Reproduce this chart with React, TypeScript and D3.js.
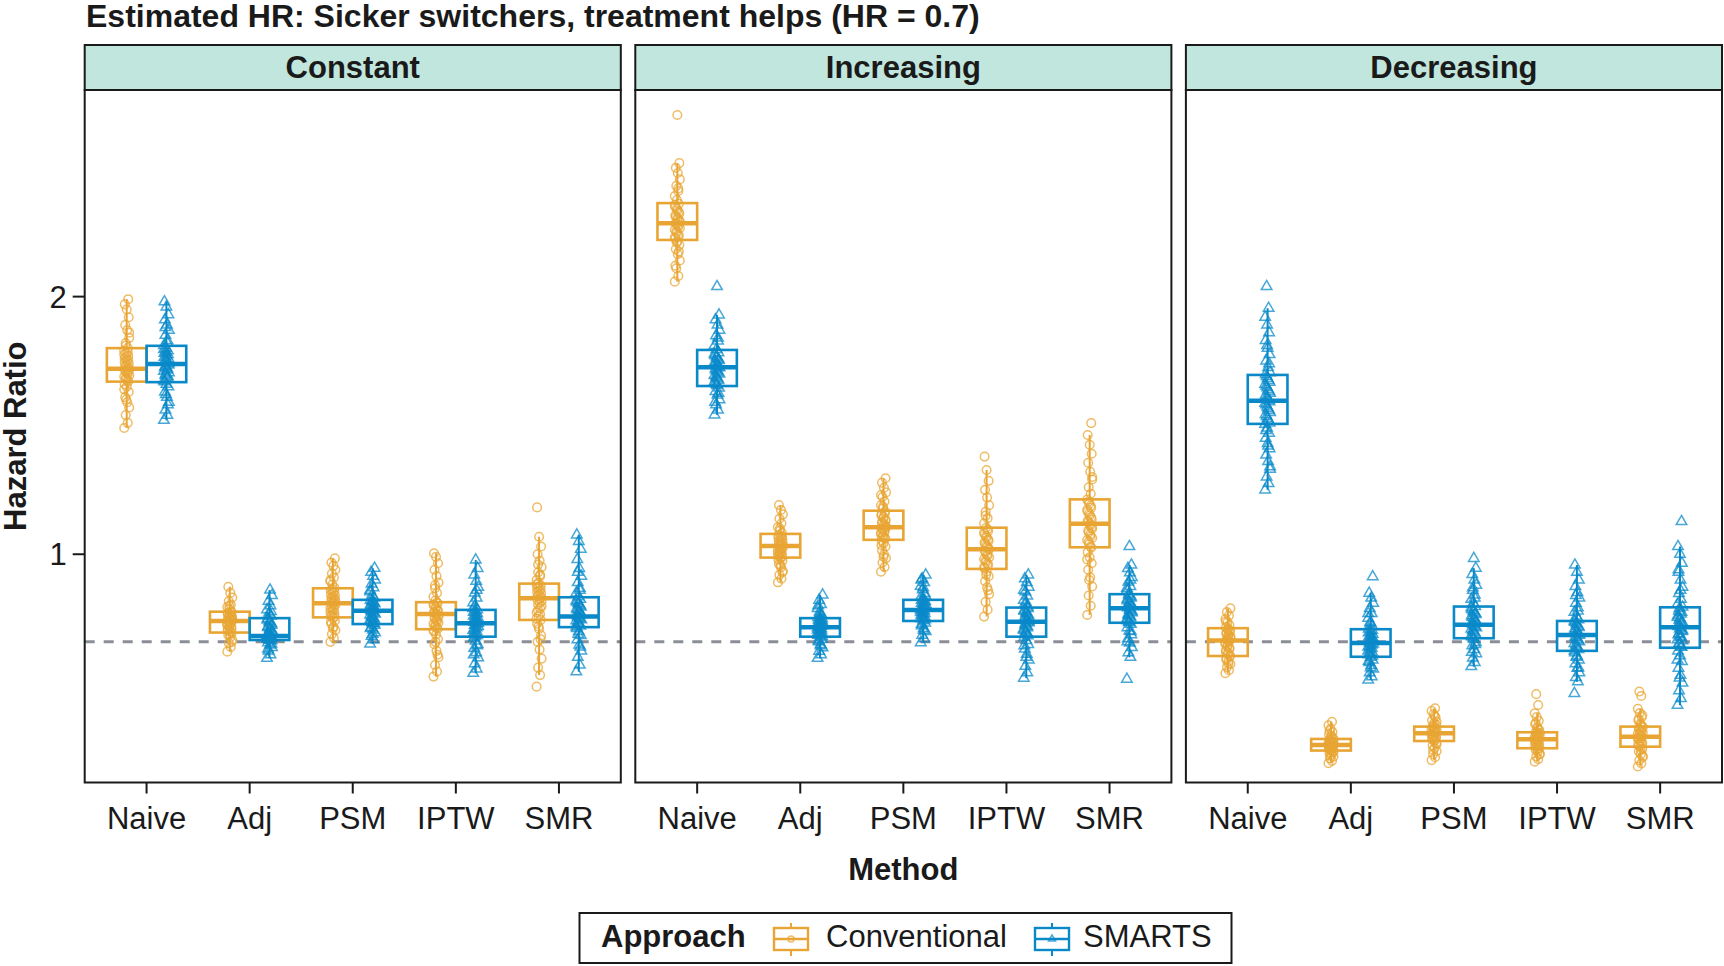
import React from 'react';
import * as d3 from 'd3';

const facets = ['Constant', 'Increasing', 'Decreasing'];
const methods = ['Naive', 'Adj', 'PSM', 'IPTW', 'SMR'];
const approaches = ['Conventional', 'SMARTS'];
const yTicks = [1, 2];
const yLimits = [0.114, 2.802];
const referenceHR = 0.66;

// [lower whisker, Q1, median, Q3, upper whisker] per method
const constantConvBox = [
  [1.49, 1.67, 1.72, 1.8, 1.99],
  [0.622, 0.696, 0.741, 0.777, 0.874],
  [0.66, 0.755, 0.81, 0.868, 0.984],
  [0.525, 0.709, 0.768, 0.814, 1.004],
  [0.531, 0.745, 0.829, 0.886, 1.068],
];
const constantSmartsBox = [
  [1.52, 1.668, 1.738, 1.809, 1.98],
  [0.596, 0.667, 0.683, 0.752, 0.861],
  [0.652, 0.729, 0.781, 0.823, 0.946],
  [0.538, 0.68, 0.732, 0.784, 0.978],
  [0.544, 0.717, 0.758, 0.833, 1.075],
];
const increasingConvBox = [
  [2.058, 2.22, 2.285, 2.363, 2.518],
  [0.891, 0.987, 1.032, 1.079, 1.191],
  [0.932, 1.056, 1.105, 1.169, 1.295],
  [0.758, 0.943, 1.019, 1.103, 1.327],
  [0.764, 1.027, 1.118, 1.213, 1.463],
];
const increasingSmartsBox = [
  [1.541, 1.653, 1.726, 1.793, 1.929],
  [0.596, 0.68, 0.717, 0.752, 0.842],
  [0.657, 0.741, 0.784, 0.823, 0.92],
  [0.519, 0.68, 0.738, 0.793, 0.92],
  [0.6, 0.734, 0.79, 0.845, 0.958],
];
const decreasingConvBox = [
  [0.538, 0.605, 0.665, 0.713, 0.79],
  [0.189, 0.238, 0.26, 0.283, 0.35],
  [0.201, 0.275, 0.305, 0.331, 0.402],
  [0.195, 0.247, 0.282, 0.309, 0.383],
  [0.176, 0.253, 0.292, 0.331, 0.4],
];
const decreasingSmartsBox = [
  [1.25, 1.506, 1.596, 1.696, 1.955],
  [0.512, 0.602, 0.655, 0.709, 0.849],
  [0.564, 0.674, 0.726, 0.797, 0.946],
  [0.505, 0.625, 0.687, 0.741, 0.958],
  [0.414, 0.637, 0.717, 0.794, 1.03],
];

// estimated HR of each simulated run, one list per method
const constantConvEst = [
  [1.49, 1.51, 1.54, 1.57, 1.59, 1.61, 1.63, 1.65, 1.66, 1.67, 1.68, 1.69, 1.7, 1.71, 1.715, 1.72, 1.73, 1.74, 1.75, 1.76, 1.77, 1.78, 1.79, 1.8, 1.82, 1.84, 1.87, 1.89, 1.92, 1.95, 1.97, 1.99,
    1.6, 1.64, 1.675, 1.685, 1.695, 1.705, 1.712, 1.725, 1.735, 1.745, 1.755, 1.765, 1.775, 1.785, 1.81, 1.86],
  [0.622, 0.64, 0.655, 0.668, 0.678, 0.687, 0.695, 0.7, 0.708, 0.715, 0.722, 0.728, 0.734, 0.74, 0.745, 0.75, 0.755, 0.76, 0.766, 0.772, 0.778, 0.786, 0.795, 0.805, 0.818, 0.832, 0.85, 0.874,
    0.66, 0.69, 0.705, 0.712, 0.718, 0.725, 0.731, 0.737, 0.743, 0.748, 0.753, 0.758, 0.763, 0.769, 0.775, 0.8],
  [0.66, 0.675, 0.69, 0.705, 0.718, 0.73, 0.742, 0.752, 0.76, 0.77, 0.78, 0.79, 0.8, 0.808, 0.815, 0.822, 0.83, 0.84, 0.85, 0.86, 0.87, 0.882, 0.895, 0.91, 0.925, 0.94, 0.955, 0.968, 0.984,
    0.712, 0.738, 0.757, 0.765, 0.775, 0.785, 0.795, 0.804, 0.812, 0.818, 0.826, 0.835, 0.845, 0.855, 0.865, 0.9],
  [0.525, 0.545, 0.57, 0.6, 0.625, 0.65, 0.67, 0.688, 0.7, 0.71, 0.72, 0.73, 0.74, 0.75, 0.758, 0.765, 0.772, 0.78, 0.79, 0.8, 0.81, 0.82, 0.835, 0.85, 0.868, 0.89, 0.915, 0.94, 0.965, 0.99, 1.004,
    0.61, 0.66, 0.705, 0.715, 0.725, 0.735, 0.745, 0.754, 0.762, 0.769, 0.776, 0.785, 0.795, 0.805, 0.812, 0.88],
  [0.486, 0.531, 0.56, 0.595, 0.63, 0.66, 0.685, 0.71, 0.73, 0.745, 0.76, 0.775, 0.79, 0.805, 0.818, 0.828, 0.838, 0.848, 0.858, 0.868, 0.878, 0.888, 0.9, 0.915, 0.93, 0.95, 0.975, 1.0, 1.03, 1.068, 1.182,
    0.67, 0.72, 0.75, 0.768, 0.782, 0.798, 0.812, 0.823, 0.833, 0.843, 0.853, 0.863, 0.873, 0.883, 0.92, 0.96],
];
const constantSmartsEst = [
  [1.52, 1.54, 1.56, 1.59, 1.61, 1.63, 1.65, 1.66, 1.67, 1.69, 1.7, 1.71, 1.72, 1.73, 1.74, 1.745, 1.75, 1.76, 1.77, 1.78, 1.79, 1.8, 1.81, 1.83, 1.85, 1.87, 1.89, 1.91, 1.93, 1.96, 1.98,
    1.58, 1.62, 1.675, 1.685, 1.695, 1.705, 1.715, 1.725, 1.735, 1.755, 1.765, 1.775, 1.785, 1.795, 1.82, 1.88],
  [0.596, 0.61, 0.625, 0.638, 0.648, 0.657, 0.664, 0.668, 0.672, 0.676, 0.68, 0.683, 0.688, 0.695, 0.703, 0.712, 0.72, 0.73, 0.74, 0.75, 0.76, 0.772, 0.785, 0.8, 0.818, 0.84, 0.861,
    0.632, 0.652, 0.666, 0.67, 0.674, 0.678, 0.681, 0.685, 0.691, 0.699, 0.708, 0.716, 0.725, 0.735, 0.745, 0.778],
  [0.652, 0.668, 0.682, 0.695, 0.706, 0.716, 0.725, 0.732, 0.74, 0.748, 0.756, 0.764, 0.772, 0.78, 0.786, 0.792, 0.8, 0.808, 0.815, 0.822, 0.83, 0.842, 0.855, 0.87, 0.885, 0.9, 0.915, 0.93, 0.946,
    0.69, 0.712, 0.73, 0.736, 0.744, 0.752, 0.76, 0.768, 0.776, 0.783, 0.789, 0.796, 0.804, 0.812, 0.819, 0.86],
  [0.538, 0.555, 0.575, 0.598, 0.618, 0.635, 0.65, 0.663, 0.675, 0.685, 0.695, 0.705, 0.715, 0.725, 0.732, 0.74, 0.748, 0.756, 0.765, 0.775, 0.785, 0.798, 0.812, 0.83, 0.85, 0.872, 0.895, 0.92, 0.945, 0.978,
    0.61, 0.645, 0.68, 0.69, 0.7, 0.71, 0.72, 0.728, 0.736, 0.744, 0.752, 0.76, 0.77, 0.78, 0.79, 0.86],
  [0.544, 0.57, 0.6, 0.625, 0.648, 0.668, 0.685, 0.7, 0.712, 0.722, 0.732, 0.742, 0.75, 0.758, 0.766, 0.775, 0.785, 0.795, 0.805, 0.815, 0.825, 0.835, 0.85, 0.868, 0.89, 0.915, 0.945, 0.98, 1.02, 1.05, 1.075,
    0.64, 0.69, 0.718, 0.727, 0.737, 0.746, 0.754, 0.762, 0.77, 0.78, 0.79, 0.8, 0.81, 0.82, 0.86, 0.93],
];
const increasingConvEst = [
  [2.058, 2.08, 2.11, 2.14, 2.165, 2.185, 2.2, 2.215, 2.225, 2.235, 2.248, 2.26, 2.272, 2.282, 2.29, 2.3, 2.31, 2.322, 2.335, 2.348, 2.36, 2.375, 2.39, 2.41, 2.43, 2.455, 2.48, 2.5, 2.518, 2.705,
    2.12, 2.175, 2.21, 2.23, 2.242, 2.254, 2.266, 2.277, 2.286, 2.295, 2.305, 2.316, 2.328, 2.342, 2.355, 2.42],
  [0.891, 0.905, 0.92, 0.935, 0.95, 0.962, 0.975, 0.985, 0.993, 1.0, 1.008, 1.015, 1.022, 1.03, 1.036, 1.042, 1.05, 1.058, 1.066, 1.074, 1.082, 1.092, 1.105, 1.12, 1.138, 1.155, 1.172, 1.191,
    0.93, 0.958, 0.98, 0.99, 0.997, 1.004, 1.012, 1.019, 1.026, 1.033, 1.039, 1.046, 1.054, 1.062, 1.07, 1.1],
  [0.932, 0.95, 0.968, 0.985, 1.0, 1.015, 1.03, 1.042, 1.054, 1.064, 1.074, 1.083, 1.092, 1.1, 1.108, 1.116, 1.125, 1.135, 1.145, 1.155, 1.166, 1.178, 1.19, 1.205, 1.222, 1.24, 1.258, 1.278, 1.295,
    0.99, 1.035, 1.06, 1.069, 1.078, 1.087, 1.096, 1.104, 1.112, 1.12, 1.13, 1.14, 1.15, 1.16, 1.185, 1.23],
  [0.758, 0.785, 0.815, 0.845, 0.872, 0.895, 0.915, 0.932, 0.945, 0.958, 0.97, 0.982, 0.995, 1.008, 1.018, 1.028, 1.04, 1.052, 1.065, 1.078, 1.09, 1.103, 1.12, 1.14, 1.165, 1.19, 1.22, 1.25, 1.285, 1.327, 1.379,
    0.86, 0.92, 0.95, 0.964, 0.976, 0.988, 1.0, 1.012, 1.023, 1.034, 1.046, 1.058, 1.071, 1.084, 1.097, 1.15],
  [0.764, 0.8, 0.84, 0.875, 0.91, 0.94, 0.965, 0.988, 1.008, 1.025, 1.04, 1.055, 1.07, 1.085, 1.1, 1.112, 1.124, 1.136, 1.15, 1.165, 1.18, 1.196, 1.212, 1.235, 1.26, 1.29, 1.32, 1.355, 1.39, 1.425, 1.463, 1.509,
    0.9, 0.98, 1.03, 1.048, 1.063, 1.078, 1.092, 1.106, 1.118, 1.13, 1.143, 1.158, 1.172, 1.188, 1.205, 1.3],
];
const increasingSmartsEst = [
  [1.541, 1.56, 1.58, 1.6, 1.618, 1.632, 1.645, 1.655, 1.665, 1.675, 1.685, 1.695, 1.705, 1.715, 1.724, 1.732, 1.742, 1.752, 1.762, 1.772, 1.782, 1.795, 1.81, 1.828, 1.848, 1.87, 1.89, 1.91, 1.929, 2.039,
    1.59, 1.625, 1.66, 1.67, 1.68, 1.69, 1.7, 1.71, 1.72, 1.728, 1.737, 1.747, 1.757, 1.767, 1.777, 1.84],
  [0.596, 0.61, 0.624, 0.637, 0.65, 0.66, 0.67, 0.678, 0.686, 0.693, 0.7, 0.706, 0.712, 0.718, 0.724, 0.73, 0.736, 0.742, 0.748, 0.755, 0.765, 0.776, 0.79, 0.805, 0.822, 0.842,
    0.645, 0.665, 0.682, 0.689, 0.696, 0.703, 0.709, 0.715, 0.721, 0.727, 0.733, 0.739, 0.745, 0.751, 0.77, 0.8],
  [0.657, 0.672, 0.686, 0.7, 0.712, 0.723, 0.733, 0.742, 0.75, 0.758, 0.766, 0.774, 0.781, 0.788, 0.795, 0.802, 0.81, 0.818, 0.826, 0.836, 0.848, 0.862, 0.876, 0.89, 0.905, 0.92,
    0.705, 0.728, 0.746, 0.754, 0.762, 0.77, 0.777, 0.784, 0.791, 0.798, 0.806, 0.814, 0.822, 0.84, 0.87, 0.9],
  [0.519, 0.54, 0.565, 0.59, 0.612, 0.632, 0.65, 0.665, 0.678, 0.69, 0.7, 0.71, 0.72, 0.73, 0.738, 0.746, 0.755, 0.764, 0.774, 0.784, 0.795, 0.808, 0.822, 0.838, 0.855, 0.872, 0.89, 0.905, 0.92,
    0.6, 0.645, 0.684, 0.695, 0.705, 0.715, 0.725, 0.734, 0.742, 0.75, 0.759, 0.769, 0.779, 0.79, 0.815, 0.86],
  [0.515, 0.6, 0.618, 0.638, 0.656, 0.672, 0.688, 0.702, 0.715, 0.728, 0.738, 0.748, 0.758, 0.768, 0.778, 0.788, 0.796, 0.805, 0.815, 0.825, 0.835, 0.846, 0.86, 0.875, 0.892, 0.91, 0.928, 0.945, 0.958, 1.03,
    0.66, 0.7, 0.735, 0.743, 0.753, 0.763, 0.773, 0.783, 0.792, 0.8, 0.81, 0.82, 0.83, 0.84, 0.868, 0.9],
];
const decreasingConvEst = [
  [0.538, 0.55, 0.562, 0.574, 0.585, 0.595, 0.604, 0.612, 0.622, 0.632, 0.642, 0.652, 0.66, 0.668, 0.676, 0.684, 0.692, 0.7, 0.708, 0.716, 0.725, 0.736, 0.748, 0.762, 0.776, 0.79,
    0.575, 0.59, 0.608, 0.617, 0.627, 0.637, 0.647, 0.656, 0.664, 0.672, 0.68, 0.688, 0.696, 0.704, 0.712, 0.74],
  [0.189, 0.198, 0.207, 0.215, 0.222, 0.229, 0.235, 0.24, 0.245, 0.25, 0.254, 0.258, 0.262, 0.266, 0.27, 0.275, 0.28, 0.285, 0.292, 0.3, 0.31, 0.322, 0.336, 0.35,
    0.218, 0.232, 0.238, 0.242, 0.247, 0.252, 0.256, 0.26, 0.264, 0.268, 0.272, 0.277, 0.282, 0.295, 0.315],
  [0.201, 0.212, 0.224, 0.236, 0.248, 0.258, 0.267, 0.275, 0.282, 0.288, 0.294, 0.3, 0.306, 0.312, 0.318, 0.324, 0.33, 0.337, 0.345, 0.355, 0.367, 0.38, 0.392, 0.402,
    0.24, 0.262, 0.278, 0.285, 0.291, 0.297, 0.303, 0.309, 0.315, 0.321, 0.327, 0.334, 0.35, 0.372],
  [0.195, 0.205, 0.215, 0.224, 0.232, 0.24, 0.247, 0.254, 0.261, 0.268, 0.275, 0.281, 0.287, 0.293, 0.299, 0.305, 0.31, 0.318, 0.328, 0.34, 0.353, 0.368, 0.383, 0.415, 0.457,
    0.225, 0.243, 0.25, 0.257, 0.264, 0.271, 0.278, 0.284, 0.29, 0.296, 0.302, 0.307, 0.322, 0.345],
  [0.176, 0.188, 0.2, 0.212, 0.224, 0.235, 0.245, 0.254, 0.262, 0.27, 0.278, 0.286, 0.293, 0.3, 0.308, 0.316, 0.324, 0.332, 0.342, 0.355, 0.368, 0.384, 0.4, 0.45, 0.467,
    0.218, 0.24, 0.258, 0.266, 0.274, 0.282, 0.29, 0.297, 0.304, 0.312, 0.32, 0.328, 0.337, 0.36, 0.375],
];
const decreasingSmartsEst = [
  [1.25, 1.275, 1.3, 1.33, 1.36, 1.385, 1.41, 1.43, 1.45, 1.47, 1.49, 1.505, 1.52, 1.535, 1.55, 1.565, 1.58, 1.592, 1.605, 1.618, 1.632, 1.646, 1.66, 1.675, 1.69, 1.705, 1.725, 1.75, 1.775, 1.8, 1.83, 1.86, 1.89, 1.92, 1.955, 2.039,
    1.34, 1.42, 1.48, 1.51, 1.527, 1.543, 1.558, 1.572, 1.586, 1.598, 1.611, 1.625, 1.639, 1.653, 1.668, 1.682, 1.698, 1.74, 1.81],
  [0.512, 0.525, 0.54, 0.555, 0.568, 0.58, 0.59, 0.6, 0.61, 0.62, 0.63, 0.64, 0.648, 0.656, 0.664, 0.672, 0.68, 0.69, 0.7, 0.71, 0.722, 0.736, 0.752, 0.77, 0.79, 0.81, 0.83, 0.849, 0.913,
    0.56, 0.585, 0.605, 0.615, 0.625, 0.635, 0.644, 0.652, 0.66, 0.668, 0.676, 0.685, 0.695, 0.705, 0.73, 0.77],
  [0.564, 0.58, 0.597, 0.614, 0.63, 0.645, 0.658, 0.67, 0.68, 0.69, 0.7, 0.71, 0.72, 0.728, 0.737, 0.746, 0.756, 0.766, 0.776, 0.786, 0.797, 0.81, 0.825, 0.842, 0.86, 0.88, 0.9, 0.922, 0.946, 0.984,
    0.62, 0.65, 0.675, 0.685, 0.695, 0.705, 0.715, 0.724, 0.732, 0.741, 0.751, 0.761, 0.771, 0.781, 0.792, 0.83, 0.87],
  [0.46, 0.505, 0.522, 0.54, 0.558, 0.575, 0.59, 0.605, 0.618, 0.63, 0.642, 0.654, 0.665, 0.676, 0.686, 0.696, 0.706, 0.716, 0.726, 0.736, 0.746, 0.76, 0.775, 0.792, 0.81, 0.83, 0.852, 0.875, 0.9, 0.93, 0.958,
    0.56, 0.6, 0.625, 0.636, 0.648, 0.66, 0.67, 0.68, 0.691, 0.701, 0.711, 0.721, 0.731, 0.741, 0.78, 0.84],
  [0.414, 0.44, 0.47, 0.5, 0.53, 0.558, 0.584, 0.606, 0.625, 0.64, 0.655, 0.668, 0.68, 0.692, 0.704, 0.715, 0.726, 0.738, 0.75, 0.762, 0.775, 0.79, 0.806, 0.825, 0.848, 0.872, 0.9, 0.93, 0.965, 1.0, 1.03, 1.127,
    0.52, 0.59, 0.64, 0.652, 0.664, 0.676, 0.688, 0.7, 0.71, 0.72, 0.732, 0.744, 0.756, 0.768, 0.78, 0.795, 0.86, 0.94],
];

const boxStats: Record<string, number[][][]> = {
  Constant: [constantConvBox, constantSmartsBox],
  Increasing: [increasingConvBox, increasingSmartsBox],
  Decreasing: [decreasingConvBox, decreasingSmartsBox],
};
const estimates: Record<string, number[][][]> = {
  Constant: [constantConvEst, constantSmartsEst],
  Increasing: [increasingConvEst, increasingSmartsEst],
  Decreasing: [decreasingConvEst, decreasingSmartsEst],
};

const width = 1724;
const height = 966;
const margin = { top: 90, right: 2, bottom: 183.5, left: 84.7 };
const stripTop = 45;
const panelGap = 14.5;
const colors = ['#E8A534', '#0A89C9'];
const font = '"Liberation Sans", Arial, Helvetica, sans-serif';
const ink = '#1a1a1a';

const triangle = d3.symbol().type(d3.symbolTriangle).size(48)();
const legendTriangle = d3.symbol().type(d3.symbolTriangle).size(22)();

// spread points sideways a little, same pattern for every group
const jitter = (i: number) => (((i * 7) % 11) - 5) * 0.5;

const Mark = ({ k, x, y, r = 4.3, d = triangle }: { k: number; x: number; y: number; r?: number; d?: string | null }) =>
  k === 0 ? (
    <circle cx={x} cy={y} r={r} fill="none" stroke={colors[0]} strokeOpacity={0.75} strokeWidth={1.5} />
  ) : (
    <path d={d || ''} transform={`translate(${x},${y})`} fill="none" stroke={colors[1]} strokeOpacity={0.75} strokeWidth={1.5} />
  );

export default function App() {
  const panelW = (width - margin.left - margin.right - 2 * panelGap) / 3;
  const bottom = height - margin.bottom;

  const y = d3.scaleLinear().domain(yLimits).range([bottom, margin.top]);
  const x = d3.scalePoint().domain(methods).range([0, panelW]).padding(0.6);
  const step = x.step();
  const dodge = d3.scaleBand().domain(approaches).range([-0.385 * step, 0.385 * step]);
  const bw = dodge.bandwidth();

  const legendY = 913;
  const legendH = 50;

  return (
    <svg width={width} height={height} style={{ position: 'absolute', left: 0, top: 0, background: '#fff' }} fontFamily={font}>
      <text x={86} y={27} fontSize={32} fontWeight="bold" fill={ink}>
        Estimated HR: Sicker switchers, treatment helps (HR = 0.7)
      </text>

      {facets.map((facet, fi) => {
        const left = margin.left + fi * (panelW + panelGap);
        return (
          <g key={facet} transform={`translate(${left},0)`}>
            <rect x={0} y={stripTop} width={panelW} height={margin.top - stripTop} fill="#C0E6DD" stroke={ink} strokeWidth={2} />
            <text x={panelW / 2} y={78} textAnchor="middle" fontSize={31} fontWeight="bold" fill={ink}>
              {facet}
            </text>

            <line x1={0} x2={panelW} y1={y(referenceHR)} y2={y(referenceHR)} stroke="#8B8E97" strokeWidth={3} strokeDasharray="10 9" />

            {approaches.map((a, k) =>
              boxStats[facet][k].map(([lo, q1, med, q3, hi], mi) => {
                const cx = (x(methods[mi]) as number) + (dodge(a) as number) + bw / 2;
                return (
                  <g key={`${a}-${mi}`} stroke={colors[k]} fill="none">
                    <line x1={cx} x2={cx} y1={y(q3)} y2={y(hi)} strokeWidth={2} />
                    <line x1={cx} x2={cx} y1={y(q1)} y2={y(lo)} strokeWidth={2} />
                    <rect x={cx - bw / 2} y={y(q3)} width={bw} height={y(q1) - y(q3)} strokeWidth={2.6} />
                    <line x1={cx - bw / 2} x2={cx + bw / 2} y1={y(med)} y2={y(med)} strokeWidth={4.5} />
                  </g>
                );
              })
            )}

            {approaches.map((a, k) =>
              estimates[facet][k].map((vals, mi) => {
                const cx = (x(methods[mi]) as number) + (dodge(a) as number) + bw / 2;
                return (
                  <g key={`p-${a}-${mi}`}>
                    {vals.map((v, i) => (
                      <Mark key={i} k={k} x={cx + jitter(i)} y={y(v)} />
                    ))}
                  </g>
                );
              })
            )}

            <rect x={0} y={margin.top} width={panelW} height={bottom - margin.top} fill="none" stroke={ink} strokeWidth={2} />

            {methods.map((m) => (
              <g key={m} transform={`translate(${x(m)},${bottom})`}>
                <line y1={0} y2={11} stroke={ink} strokeWidth={2} />
                <text y={46} textAnchor="middle" fontSize={31} fill={ink}>
                  {m}
                </text>
              </g>
            ))}
          </g>
        );
      })}

      {yTicks.map((t) => (
        <g key={t} transform={`translate(${margin.left},${y(t)})`}>
          <line x1={-12} x2={0} stroke={ink} strokeWidth={2} />
          <text x={-18} dy="0.36em" textAnchor="end" fontSize={31} fill={ink}>
            {t}
          </text>
        </g>
      ))}

      <text transform={`translate(26,${(margin.top + bottom) / 2}) rotate(-90)`} textAnchor="middle" fontSize={31} fontWeight="bold" fill={ink}>
        Hazard Ratio
      </text>
      <text x={(margin.left + width - margin.right) / 2} y={880} textAnchor="middle" fontSize={31} fontWeight="bold" fill={ink}>
        Method
      </text>

      <g>
        <rect x={579.5} y={legendY} width={652} height={legendH} fill="#fff" stroke={ink} strokeWidth={2} />
        <text x={601} y={947} fontSize={31} fontWeight="bold" fill={ink}>
          Approach
        </text>
        {approaches.map((a, k) => {
          const kx = k === 0 ? 791 : 1052;
          return (
            <g key={a}>
              <g stroke={colors[k]} fill="none">
                <line x1={kx} x2={kx} y1={923} y2={956} strokeWidth={2} />
                <rect x={kx - 17} y={928} width={34} height={22} fill="#fff" strokeWidth={2.4} />
                <line x1={kx - 17} x2={kx + 17} y1={939} y2={939} strokeWidth={2.4} />
              </g>
              <Mark k={k} x={kx} y={939} r={3} d={legendTriangle} />
              <text x={k === 0 ? 826 : 1083} y={947} fontSize={31} fill={ink}>
                {a}
              </text>
            </g>
          );
        })}
      </g>
    </svg>
  );
}
